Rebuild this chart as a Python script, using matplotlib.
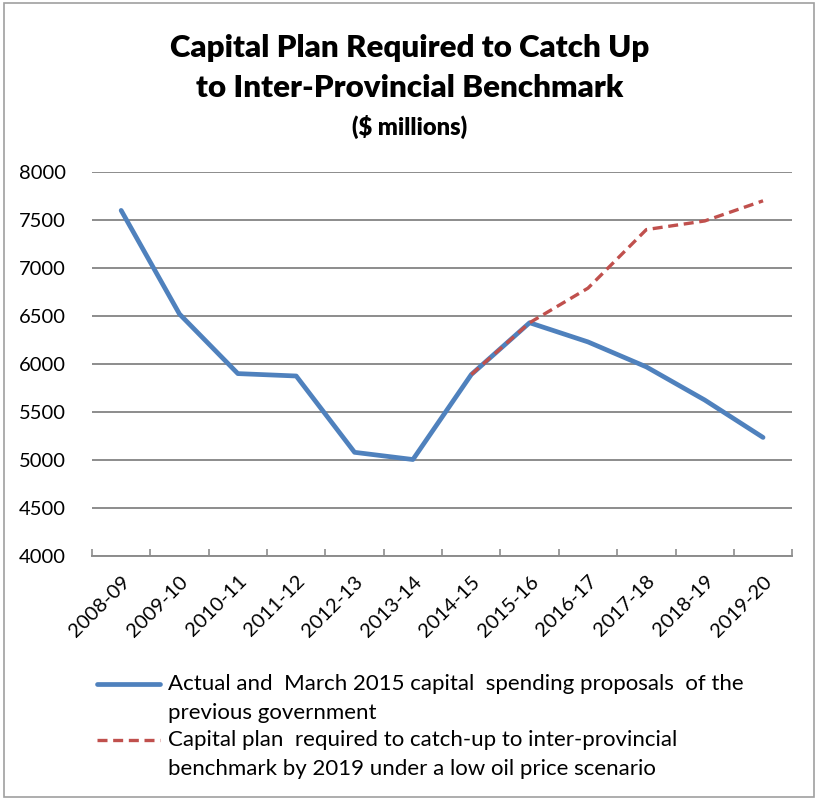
import numpy as np
import matplotlib
matplotlib.use("Agg")
import matplotlib.pyplot as plt
from matplotlib.lines import Line2D
from matplotlib.patches import Rectangle

plt.rcParams['font.family'] = ['Lato', 'DejaVu Sans']

# Data ($ millions)
years = ['2008-09', '2009-10', '2010-11', '2011-12', '2012-13', '2013-14',
         '2014-15', '2015-16', '2016-17', '2017-18', '2018-19', '2019-20']
actual = [7600, 6520, 5900, 5875, 5080, 5005, 5890, 6430, 6230, 5970, 5625, 5235]
catch_up = [np.nan, np.nan, np.nan, np.nan, np.nan, np.nan,
            5890, 6430, 6790, 7400, 7490, 7700]

label_actual = "Actual and  March 2015 capital  spending proposals  of the\nprevious government"
label_catch = "Capital plan  required to catch-up to inter-provincial\nbenchmark by 2019 under a low oil price scenario"

blue = '#4f81bd'
red = '#c0504d'
grid_grey = '#8c8c8c'
dash = (0, (3.0, 1.7))

fig = plt.figure(figsize=(8.19, 8.00), dpi=100)
ax = fig.add_axes([0.1123, 0.305, 0.855, 0.48])

x = np.arange(len(years))
ax.plot(x, actual, color=blue, lw=3.4, solid_capstyle='round', zorder=3)
ax.plot(x, catch_up, color=red, lw=2.4, ls=dash, zorder=4)

ax.set_ylim(4000, 8000)
ax.set_yticks(np.arange(4000, 8001, 500))
ax.set_xlim(-0.5, len(years) - 0.5)

# tick marks on category boundaries, labels at category centres
ax.set_xticks(np.arange(-0.5, len(years), 1.0))
ax.set_xticklabels([])
ax.set_xticks(x, minor=True)
ax.set_xticklabels(years, minor=True, rotation=45, ha='right',
                   rotation_mode='anchor', fontsize=14.5)
ax.tick_params(axis='x', which='major', direction='in', length=5,
               color=grid_grey, width=1.2)
ax.tick_params(axis='x', which='minor', length=0, pad=12)
ax.tick_params(axis='y', length=0, pad=19, labelsize=14.5)

ax.grid(axis='y', color=grid_grey, lw=1.4)
ax.set_axisbelow(True)
for side in ['left', 'right', 'top']:
    ax.spines[side].set_visible(False)
ax.spines['bottom'].set_color(grid_grey)
ax.spines['bottom'].set_linewidth(1.4)

# Title
fig.text(0.5, 0.940, "Capital Plan Required to Catch Up", ha='center', va='center',
         fontsize=22.5, fontweight='heavy')
fig.text(0.5, 0.890, "to Inter-Provincial Benchmark", ha='center', va='center',
         fontsize=22.5, fontweight='heavy')
fig.text(0.5, 0.841, "($ millions)", ha='center', va='center',
         fontsize=17, fontweight='heavy')

# Legend
fig.add_artist(Line2D([97 / 819, 160 / 819], [1 - 684 / 800, 1 - 684 / 800],
                      color=blue, lw=3.4, solid_capstyle='round'))
fig.text(168 / 819, 1 - 674 / 800, label_actual, ha='left', va='top',
         fontsize=16, linespacing=1.58)
fig.add_artist(Line2D([97 / 819, 160 / 819], [1 - 740 / 800, 1 - 740 / 800],
                      color=red, lw=2.4, ls=dash))
fig.text(168 / 819, 1 - 730 / 800, label_catch, ha='left', va='top',
         fontsize=16, linespacing=1.58)

# Outer border
fig.add_artist(Rectangle((4 / 819, 3 / 800), 810 / 819, 794 / 800,
                         transform=fig.transFigure, fill=False,
                         edgecolor='#a0a0a0', lw=1.2))

fig.savefig('out.png', dpi=100)
